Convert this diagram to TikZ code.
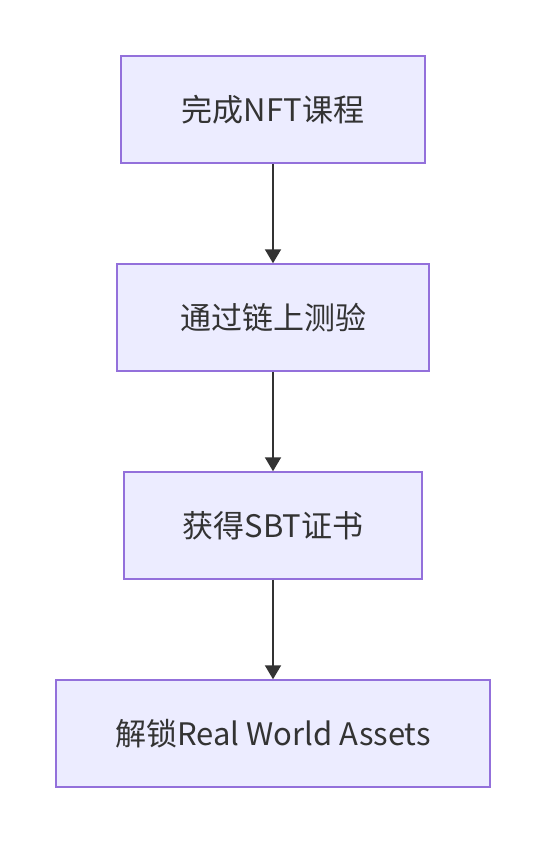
\documentclass[tikz,border=0pt]{standalone}
\usepackage{fontspec}
\setmainfont{Noto Sans CJK SC}
\usepackage{tikz}
\usetikzlibrary{arrows.meta, positioning}

\definecolor{boxfill}{HTML}{ECECFF}
\definecolor{boxline}{HTML}{9370DB}
\definecolor{inkgray}{HTML}{333333}

\tikzset{
	passo/.style={draw=boxline, fill=boxfill, line width=1.5pt, minimum height=107pt,
		inner sep=0pt, text=inkgray, font=\fontsize{31}{36}\selectfont},
	freccia/.style={draw=inkgray, line width=2pt, -{Triangle[width=16pt,length=14pt]}}
}

\begin{document}
\begin{tikzpicture}[node distance=99.5pt]
	\useasboundingbox (0,0) rectangle (546pt,-844pt);
	
	% Nodi del percorso
	\node[passo, minimum width=304pt] (corso) at (273pt,-109.5pt) {完成NFT课程};
	\node[passo, minimum width=312pt, below=of corso] (quiz) {通过链上测验};
	\node[passo, minimum width=298pt, below=of quiz] (sbt) {获得SBT证书};
	\node[passo, minimum width=434pt, below=of sbt] (rwa) {解锁Real World Assets};
	
	% Frecce
	\draw[freccia] (corso) -- (quiz);
	\draw[freccia] (quiz) -- (sbt);
	\draw[freccia] (sbt) -- (rwa);
\end{tikzpicture}
\end{document}
